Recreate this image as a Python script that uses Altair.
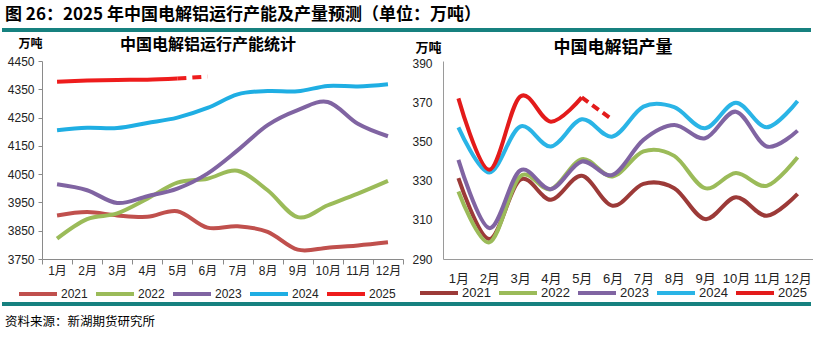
import altair as alt
import pandas as pd

# ---------------- data ----------------
months = ["1月", "2月", "3月", "4月", "5月", "6月", "7月", "8月", "9月", "10月", "11月", "12月"]
years = ["2021", "2022", "2023", "2024", "2025"]

cap_2021 = [3904, 3916, 3904, 3899, 3919, 3861, 3866, 3846, 3783, 3790, 3798, 3809]
cap_2022 = [3822, 3891, 3911, 3963, 4020, 4034, 4062, 3993, 3898, 3940, 3981, 4026]
cap_2023 = [4014, 3993, 3948, 3972, 3999, 4052, 4134, 4223, 4276, 4305, 4228, 4184]
cap_2024 = [4205, 4214, 4213, 4231, 4250, 4284, 4332, 4344, 4343, 4362, 4360, 4368]
cap_2025 = [4377, 4381, 4383, 4384, 4388, 4395]

prod_2021 = [331.3, 300.2, 330.5, 320.3, 332.5, 317.2, 328.4, 326.2, 310.4, 321.6, 312.1, 323.3]
prod_2022 = [324.5, 298.5, 332.2, 325.7, 341.0, 332.2, 345.0, 342.7, 326.2, 333.9, 327.4, 342.0]
prod_2023 = [340.7, 305.8, 335.2, 325.7, 339.8, 333.0, 350.9, 358.5, 351.7, 365.3, 347.5, 355.6]
prod_2024 = [357.3, 334.2, 357.7, 347.5, 361.4, 352.6, 367.9, 367.6, 356.8, 369.9, 357.3, 370.8]
prod_2025 = [372.1, 335.6, 373.0, 360.2, 372.6, 361.1]

left_colors = ["#C0504D", "#9BBB59", "#8064A2", "#1FAEE3", "#EE1C1C"]
right_colors = ["#9C3A38", "#9BBB59", "#8064A2", "#2AB4E6", "#E31B1B"]

title_text = "图 26：2025 年中国电解铝运行产能及产量预测（单位：万吨）"
left_title = "中国电解铝运行产能统计"
right_title = "中国电解铝产量"
unit_text = "万吨"
source_text = "资料来源：新湖期货研究所"

TEAL = "#16817F"
CJK = "Noto Sans CJK SC"
FONT = "Liberation Sans, Noto Sans CJK SC, sans-serif"


def long_df(series_list):
    rows = []
    for yr, vals in zip(years, series_list):
        for m, v in zip(months, vals):
            rows.append({"year": yr, "month": m, "value": v})
    return pd.DataFrame(rows)


cap_df = long_df([cap_2021, cap_2022, cap_2023, cap_2024, cap_2025[:5]])
cap_dash = pd.DataFrame({"year": "2025", "month": months[4:6], "value": cap_2025[4:6]})
prod_df = long_df([prod_2021, prod_2022, prod_2023, prod_2024, prod_2025[:5]])
prod_dash = pd.DataFrame({"year": "2025", "month": months[4:6], "value": prod_2025[4:6]})


def text_layer(txt, x, y, size, weight="normal", align="left", font=CJK, color="#000000"):
    return alt.Chart(pd.DataFrame({"t": [txt]})).mark_text(
        align=align, baseline="middle", fontSize=size, fontWeight=weight, font=font, color=color
    ).encode(text="t:N", x=alt.value(x), y=alt.value(y))


def rule_layer(x1, x2, y, color, width, opacity=1.0):
    return alt.Chart(pd.DataFrame({"a": [0]})).mark_rule(
        color=color, strokeWidth=width, opacity=opacity
    ).encode(x=alt.value(x1), x2=alt.value(x2), y=alt.value(y))


# ---------------- left chart ----------------
LW, LH = 361, 198
x_left = alt.X(
    "month:N", sort=months,
    scale=alt.Scale(type="band", paddingInner=0, paddingOuter=0),
    axis=alt.Axis(title=None, labelAngle=0, tickBand="extent", tickSize=5, tickColor="#8a8a8a",
                  domainColor="#8a8a8a", labelFontSize=12, labelFont=FONT, labelColor="#222222",
                  labelPadding=1, grid=False),
)
y_left = alt.Y(
    "value:Q",
    scale=alt.Scale(domain=[3750, 4450], nice=False, zero=False),
    axis=alt.Axis(values=list(range(3750, 4451, 100)), format="d", title=unit_text, titleAngle=0,
                  titleX=-24, titleY=-18, titleAlign="left", titleBaseline="middle",
                  titleFont=CJK, titleFontSize=12, titleFontWeight="bold", titleColor="#000000",
                  tickSize=4, tickColor="#8a8a8a", domainColor="#8a8a8a", labelFontSize=12,
                  labelFont=FONT, labelColor="#222222", labelPadding=4, grid=False, labelOverlap=False),
)
color_left = alt.Color(
    "year:N", scale=alt.Scale(domain=years, range=left_colors),
    legend=alt.Legend(orient="none", legendX=-25, legendY=212, direction="horizontal", title=None,
                      symbolType="stroke", symbolSize=1444, symbolStrokeWidth=4,
                      labelFontSize=12, labelFont=FONT, labelColor="#222222",
                      labelOffset=2, columnPadding=0),
)

left_lines = alt.Chart(cap_df).mark_line(interpolate="cardinal", strokeWidth=4).encode(
    x=x_left, y=y_left, color=color_left
)
left_dash = alt.Chart(cap_dash).mark_line(strokeWidth=4, strokeDash=[9, 6]).encode(
    x=x_left, y=y_left, color=alt.Color("year:N", scale=alt.Scale(domain=years, range=left_colors), legend=None)
)

left = alt.layer(
    left_lines,
    left_dash,
    rule_layer(-40, -39, -61, "#ffffff", 0.01, 0.0),
    rule_layer(-40, 769, -31, TEAL, 4),
    rule_layer(-40, 769, 243, TEAL, 4),
    text_layer(title_text, -37, -46.5, 17, weight="bold"),
    text_layer(left_title, 166, -16, 16, weight="bold", align="center"),
    text_layer(source_text, -37, 261, 12.5),
).properties(width=LW, height=LH)

# ---------------- right chart ----------------
RW, RH = 370, 198
x_right = alt.X(
    "month:N", sort=months,
    scale=alt.Scale(type="point", padding=0.5),
    axis=alt.Axis(title=None, labelAngle=0, ticks=False, tickSize=0, domainColor="#9a9a9a",
                  labelFontSize=13, labelFont=FONT, labelColor="#222222", labelPadding=13, grid=False),
)
y_right = alt.Y(
    "value:Q",
    scale=alt.Scale(domain=[290, 391.2], nice=False, zero=False),
    axis=alt.Axis(values=[290, 310, 330, 350, 370, 390], format="d", title=unit_text, titleAngle=0,
                  titleX=-28, titleY=-14, titleAlign="left", titleBaseline="middle",
                  titleFont=CJK, titleFontSize=13, titleFontWeight="bold", titleColor="#000000",
                  ticks=False, tickSize=0, domainColor="#9a9a9a", labelFontSize=12, labelFont=FONT,
                  labelColor="#222222", labelPadding=11, grid=False, labelOverlap=False),
)
color_right = alt.Color(
    "year:N", scale=alt.Scale(domain=years, range=right_colors),
    legend=alt.Legend(orient="none", legendX=-25, legendY=211, direction="horizontal", title=None,
                      symbolType="stroke", symbolSize=1444, symbolStrokeWidth=4,
                      labelFontSize=13, labelFont=FONT, labelColor="#222222",
                      labelOffset=2, columnPadding=0),
)

right_lines = alt.Chart(prod_df).mark_line(interpolate="cardinal", strokeWidth=4).encode(
    x=x_right, y=y_right, color=color_right
)
right_dash = alt.Chart(prod_dash).mark_line(strokeWidth=4, strokeDash=[8, 5]).encode(
    x=x_right, y=y_right, color=alt.Color("year:N", scale=alt.Scale(domain=years, range=right_colors), legend=None)
)

right = alt.layer(
    right_lines,
    right_dash,
    text_layer(right_title, 170, -13, 17, weight="bold", align="center"),
).properties(width=RW, height=RH)

chart = alt.hconcat(left, right, spacing=40, bounds="flush").resolve_scale(
    color="independent"
).properties(padding=0, background="white").configure_view(stroke=None)

chart.save("out.html", embed_options={"renderer": "svg", "actions": False})
